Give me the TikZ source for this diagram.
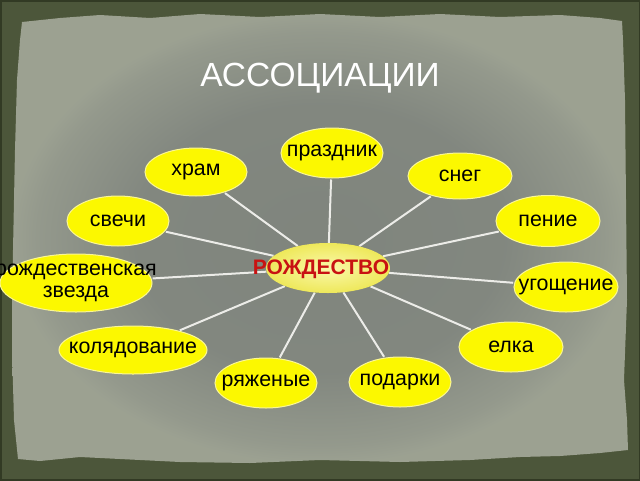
\documentclass[tikz,border=0pt]{standalone}
\usepackage{fontspec}
\setmainfont{Liberation Sans}
\usetikzlibrary{shapes.geometric}
\pgfdeclarelayer{board}
\pgfdeclarelayer{background}
\pgfsetlayers{board,background,main}
\definecolor{framec}{RGB}{76,86,58}
\definecolor{frameedge}{RGB}{50,58,36}
\definecolor{satyellow}{RGB}{252,248,0}
\definecolor{satedge}{RGB}{250,246,150}
\definecolor{linec}{RGB}{236,236,232}
\definecolor{redtext}{RGB}{200,18,18}
\definecolor{cin}{RGB}{250,248,170}
\definecolor{cout}{RGB}{238,232,90}
\pgfdeclareradialshading{boardshade}{\pgfpoint{0bp}{0bp}}{%
 rgb(0bp)=(0.50,0.52,0.49);
 rgb(15bp)=(0.51,0.53,0.50);
 rgb(23bp)=(0.58,0.60,0.55);
 rgb(25bp)=(0.61,0.63,0.57);
 rgb(50bp)=(0.61,0.63,0.57)}
\tikzset{
  sat/.style={ellipse, fill=satyellow, draw=satedge, line width=1pt, inner sep=0pt},
  sattext/.style={font=\fontsize{21.4}{23}\selectfont, text=black, align=center},
  link/.style={draw=linec, line width=2pt},
}
\begin{document}
\begin{tikzpicture}[x=1pt,y=-1pt]
\useasboundingbox (0,0) rectangle (640,480);
\begin{pgfonlayer}{board}
\fill[framec] (0,0) rectangle (640,480);
\draw[frameedge, line width=3pt] (0,0) rectangle (640,480);
\path[shading=boardshade]
  (22,22) -- (60,18) -- (100,15) -- (150,18) -- (200,14) -- (260,17) -- (320,14)
  -- (380,17) -- (440,14) -- (500,17) -- (560,15) -- (600,18) -- (622,21)
  -- (623,40) -- (625,100) -- (626,200) -- (627,300) -- (624,380) -- (627,420) -- (628,450)
  -- (600,453) -- (560,456) -- (520,457) -- (470,460) -- (400,462) -- (320,460)
  -- (250,463) -- (180,462) -- (120,459) -- (80,457) -- (40,461) -- (18,459)
  -- (14,420) -- (12,350) -- (13,250) -- (15,150) -- (17,80) -- (20,40) -- cycle;
\end{pgfonlayer}

\node[text=white, font=\fontsize{33.5}{36}\selectfont] (title) at (320,78) {АССОЦИАЦИИ};

\node[ellipse, inner sep=0pt, minimum width=124pt, minimum height=50pt,
      inner color=cin, outer color=cout] (c) at (328,268) {};
\node[text=redtext, font=\bfseries\fontsize{21}{23}\selectfont] (ctext) at (321,269) {РОЖДЕСТВО};

\node[sat, minimum width=102pt, minimum height=50pt, label={[sattext]center:праздник}] (s1) at (332,153) {};
\node[sat, minimum width=102pt, minimum height=48pt, label={[sattext]center:храм}] (s2) at (196,172) {};
\node[sat, minimum width=104pt, minimum height=46pt, label={[sattext]center:снег}] (s3) at (460,176) {};
\node[sat, minimum width=102pt, minimum height=50pt, label={[sattext]center:свечи}] (s4) at (118,221) {};
\node[sat, minimum width=104pt, minimum height=51pt, label={[sattext]center:пение}] (s5) at (548,221) {};
\node[sat, minimum width=152pt, minimum height=58pt, label={[sattext]center:{рождественская\\[-1pt]звезда}}] (s6) at (76,283) {};
\node[sat, minimum width=104pt, minimum height=50pt, label={[sattext]center:угощение}] (s7) at (566,287) {};
\node[sat, minimum width=148pt, minimum height=48pt, label={[sattext]center:колядование}] (s8) at (133,350) {};
\node[sat, minimum width=104pt, minimum height=50pt, label={[sattext]center:елка}] (s9) at (511,347) {};
\node[sat, minimum width=102pt, minimum height=50pt, label={[sattext]center:ряженые}] (s10) at (266,383) {};
\node[sat, minimum width=102pt, minimum height=50pt, label={[sattext]center:подарки}] (s11) at (400,382) {};

\begin{pgfonlayer}{background}
\foreach \s in {s1,s2,s3,s4,s5,s6,s7,s8,s9,s10,s11}
  \draw[link, shorten >=1pt] (c) -- (\s);
\end{pgfonlayer}
\end{tikzpicture}
\end{document}
